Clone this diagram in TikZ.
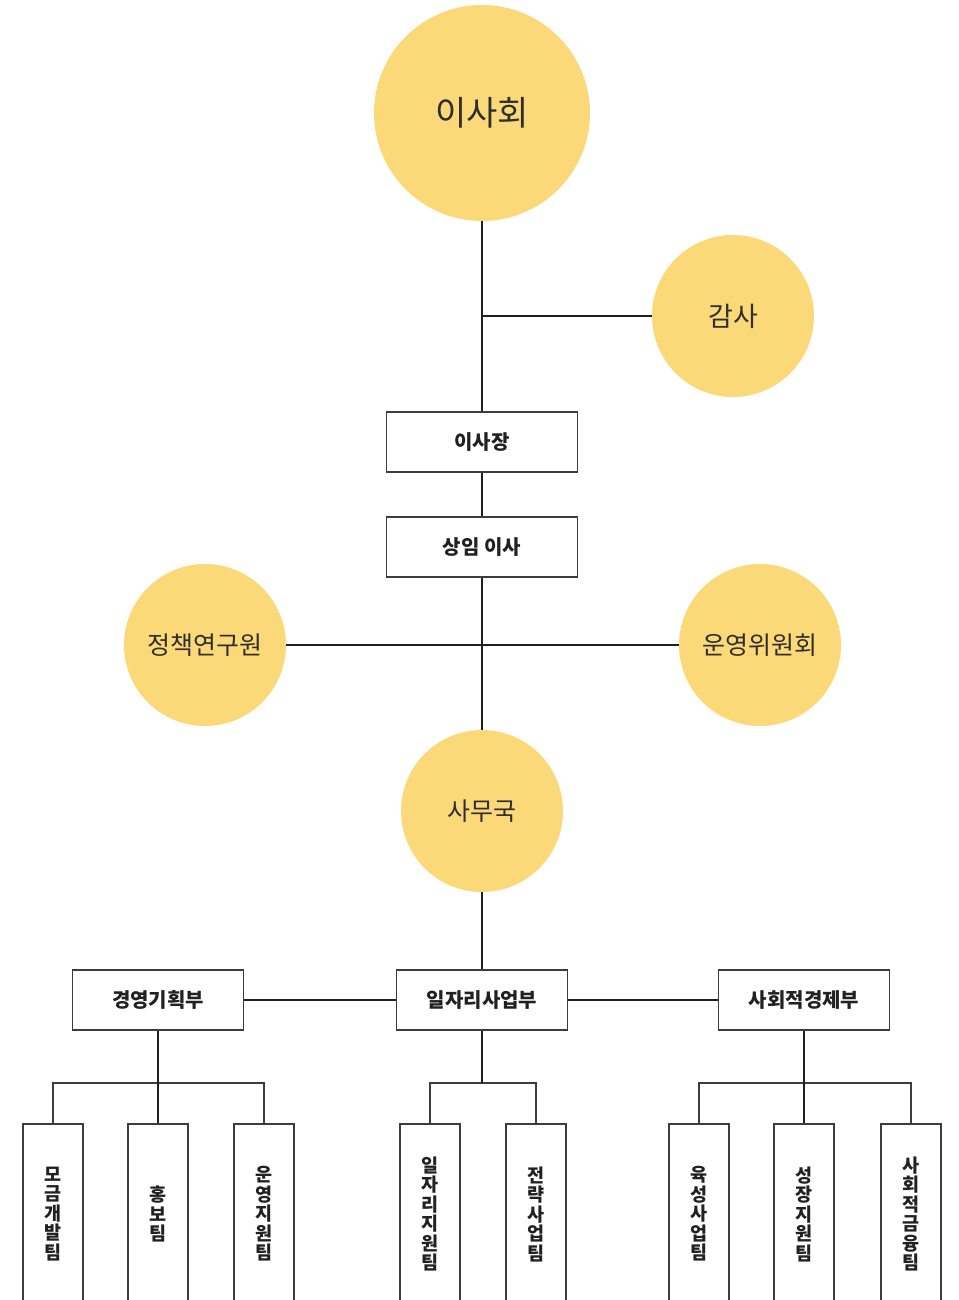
\documentclass[tikz,border=0pt]{standalone}
\usepackage{fontspec}
\setmainfont{Noto Sans CJK KR}
\usetikzlibrary{calc}

\begin{document}
\begin{tikzpicture}[x=1pt,y=-1pt,
  bigcircle/.style={circle,fill=mycolorFDD978,inner sep=0,minimum size=#1,text=mycolor2E2E2E},
  rankbox/.style={draw=mycolor3C3C3C,line width=1.1pt,fill=white,minimum width=#1,minimum height=60pt,inner sep=0,text=mycolor222222,font=\fontsize{20pt}{24pt}\selectfont\bfseries},
  teambox/.style={draw=mycolor3C3C3C,line width=1.1pt,fill=white,minimum width=60pt,minimum height=180pt,inner sep=0,align=center,text=mycolor222222,font=\fontsize{18.5pt}{19.5pt}\selectfont\bfseries},
  mainline/.style={draw=mycolor1E1E1E,line width=1.8pt},
  forkline/.style={draw=mycolor3C3C3C,line width=1.1pt}]
\definecolor{mycolorFDD978}{rgb}{0.99,0.85,0.47}
\definecolor{mycolor2E2E2E}{rgb}{0.18,0.18,0.18}
\definecolor{mycolor3C3C3C}{rgb}{0.24,0.24,0.24}
\definecolor{mycolor222222}{rgb}{0.13,0.13,0.13}
\definecolor{mycolor1E1E1E}{rgb}{0.12,0.12,0.12}
\path [use as bounding box] (0,0) rectangle (958,1300);
\clip (0,0) rectangle (958,1300);
\begin{scope}
% circles
\path (482,113) node (board) [bigcircle=216pt] {\fontsize{34pt}{40pt}\selectfont 이사회};
\path (733,316) node (audit) [bigcircle=162pt] {\fontsize{27pt}{32pt}\selectfont 감사};
\path (205,645) node (research) [bigcircle=162pt] {\fontsize{25pt}{30pt}\selectfont 정책연구원};
\path (760,645) node (committee) [bigcircle=162pt] {\fontsize{25pt}{30pt}\selectfont 운영위원회};
\path (482,811) node (office) [bigcircle=162pt] {\fontsize{25pt}{30pt}\selectfont 사무국};
\end{scope}
\begin{scope}
\path (482,442) node (chair) [rankbox=191pt] {이사장};
\path (482,547) node (director) [rankbox=191pt] {상임 이사};
\path (158,1000) node (planning) [rankbox=171pt] {경영기획부};
\path (482,1000) node (jobs) [rankbox=171pt] {일자리사업부};
\path (804,1000) node (social) [rankbox=171pt] {사회적경제부};
\end{scope}
\begin{scope}
\path (53,1214) node (fund) [teambox] {모\\금\\개\\발\\팀};
\path (158,1214) node (pr) [teambox] {홍\\보\\팀};
\path (264,1214) node (support) [teambox] {운\\영\\지\\원\\팀};
\path (430,1214) node (jobsupport) [teambox] {일\\자\\리\\지\\원\\팀};
\path (536,1214) node (strategy) [teambox] {전\\략\\사\\업\\팀};
\path (699,1214) node (incubate) [teambox] {육\\성\\사\\업\\팀};
\path (804,1214) node (growth) [teambox] {성\\장\\지\\원\\팀};
\path (911,1214) node (finance) [teambox] {사\\회\\적\\금\\융\\팀};
\end{scope}
\coordinate (forkA) at (158,1083);
\coordinate (forkB) at (482,1083);
\coordinate (forkC) at (804,1083);
\begin{scope}
\draw [mainline] (board) -- (chair);
\draw [mainline] (audit) -- (audit -| board);
\draw [mainline] (chair) -- (director);
\draw [mainline] (director) -- (office);
\draw [mainline] (research) -- (committee);
\draw [mainline] (office) -- (jobs);
\draw [mainline] (planning) -- (jobs);
\draw [mainline] (jobs) -- (social);
\draw [forkline] (fund.north) |- (forkA) -| (support.north);
\draw [mainline] (planning.south) -- (pr.north);
\draw [forkline] (jobsupport.north) |- (forkB) -| (strategy.north);
\draw [mainline] (jobs.south) -- (forkB);
\draw [forkline] (incubate.north) |- (forkC) -| (finance.north);
\draw [mainline] (social.south) -- (growth.north);
\end{scope}
\end{tikzpicture}
\end{document}
